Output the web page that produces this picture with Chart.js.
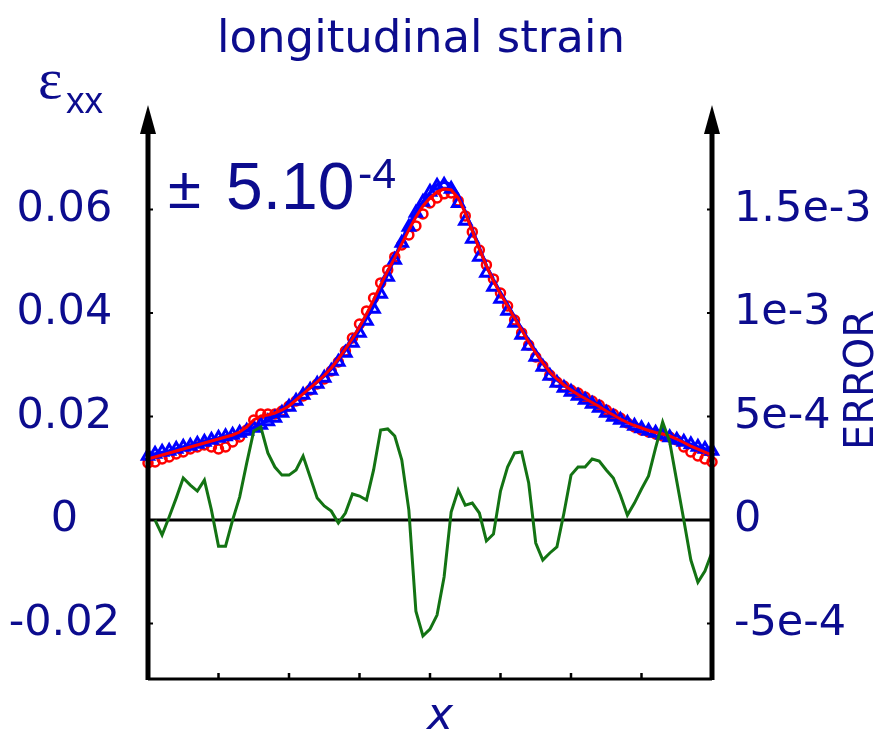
<!DOCTYPE html>
<html>
<head>
<meta charset="utf-8">
<script src="https://cdn.jsdelivr.net/npm/chart.js@4/dist/chart.umd.min.js"></script>
<style>
  html, body { margin: 0; padding: 0; background: #fff; }
  #c { display: block; }
</style>
</head>
<body>
<canvas id="c" width="884" height="736"></canvas>
<script>
// x grid: step between samples, axis runs 0..8 with a tick every unit
const dx = 0.1;
const xTicks = [1, 2, 3, 4, 5, 6, 7];
const errX0 = 0.1;

// strain, blue fitted line (one extra sample past the right axis)
const blueLine = [
  0.01237, 0.01275, 0.01304, 0.01333, 0.01372, 0.01411, 0.01440, 0.01478, 0.01517, 0.01556,
  0.01585, 0.01623, 0.01652, 0.01681, 0.01729, 0.01787, 0.01855, 0.01923, 0.02000, 0.02087,
  0.02222, 0.02338, 0.02454, 0.02560, 0.02667, 0.02783, 0.02918, 0.03092, 0.03285, 0.03469,
  0.03671, 0.03903, 0.04135, 0.04444, 0.04754, 0.05063, 0.05391, 0.05700, 0.05952, 0.06145,
  0.06319, 0.06473, 0.06531, 0.06473, 0.06280, 0.05952, 0.05604, 0.05256, 0.04908, 0.04638,
  0.04386, 0.04155, 0.03903, 0.03690, 0.03459, 0.03246, 0.03034, 0.02840, 0.02705, 0.02609,
  0.02512, 0.02435, 0.02357, 0.02280, 0.02203, 0.02106, 0.02019, 0.01952, 0.01894, 0.01836,
  0.01787, 0.01739, 0.01700, 0.01652, 0.01604, 0.01556, 0.01507, 0.01459, 0.01411, 0.01372,
  0.01333, 0.01275
];

// strain, blue triangles
const blueTri = [
  0.01237, 0.01275, 0.01314, 0.01333, 0.01372, 0.01411, 0.01430, 0.01469, 0.01507, 0.01546,
  0.01585, 0.01614, 0.01643, 0.01681, 0.01720, 0.01778, 0.01836, 0.01903, 0.01971, 0.02068,
  0.02184, 0.02300, 0.02415, 0.02512, 0.02628, 0.02744, 0.02879, 0.03053, 0.03227, 0.03420,
  0.03614, 0.03845, 0.04077, 0.04367, 0.04696, 0.05024, 0.05353, 0.05662, 0.05932, 0.06145,
  0.06338, 0.06454, 0.06473, 0.06396, 0.06120, 0.05778, 0.05430, 0.05082, 0.04773, 0.04502,
  0.04271, 0.04039, 0.03807, 0.03575, 0.03362, 0.03150, 0.02957, 0.02783, 0.02647, 0.02551,
  0.02473, 0.02396, 0.02319, 0.02242, 0.02164, 0.02068, 0.01990, 0.01932, 0.01874, 0.01816,
  0.01768, 0.01720, 0.01681, 0.01643, 0.01594, 0.01546, 0.01507, 0.01459, 0.01411, 0.01372,
  0.01333
];

// strain, red line
const redLine = [
  0.01179, 0.01217, 0.01256, 0.01295, 0.01333, 0.01372, 0.01411, 0.01449, 0.01488, 0.01527,
  0.01565, 0.01604, 0.01643, 0.01700, 0.01797, 0.01932, 0.02010, 0.02029, 0.02068, 0.02126,
  0.02203, 0.02319, 0.02435, 0.02551, 0.02667, 0.02792, 0.02937, 0.03111, 0.03304, 0.03507,
  0.03729, 0.03981, 0.04251, 0.04541, 0.04812, 0.05063, 0.05333, 0.05604, 0.05855, 0.06068,
  0.06222, 0.06338, 0.06396, 0.06377, 0.06222, 0.05932, 0.05585, 0.05237, 0.04908, 0.04618,
  0.04367, 0.04135, 0.03903, 0.03671, 0.03440, 0.03227, 0.03034, 0.02860, 0.02725, 0.02609,
  0.02512, 0.02425, 0.02348, 0.02271, 0.02193, 0.02106, 0.02029, 0.01952, 0.01884, 0.01826,
  0.01778, 0.01729, 0.01691, 0.01662, 0.01623, 0.01565, 0.01498, 0.01430, 0.01372, 0.01314,
  0.01256
];

// strain, red circles
const redCirc = [
  0.01101, 0.01121, 0.01179, 0.01217, 0.01275, 0.01314, 0.01372, 0.01411, 0.01449, 0.01411,
  0.01372, 0.01411, 0.01507, 0.01604, 0.01739, 0.01932, 0.02048, 0.02048, 0.02048, 0.02106,
  0.02203, 0.02300, 0.02396, 0.02512, 0.02628, 0.02725, 0.02879, 0.03053, 0.03266, 0.03517,
  0.03787, 0.04039, 0.04290, 0.04580, 0.04831, 0.05082, 0.05314, 0.05507, 0.05681, 0.05913,
  0.06126, 0.06222, 0.06300, 0.06319, 0.06164, 0.05874, 0.05565, 0.05217, 0.04928, 0.04657,
  0.04386, 0.04135, 0.03865, 0.03614, 0.03382, 0.03150, 0.02976, 0.02802, 0.02667, 0.02589,
  0.02512, 0.02454, 0.02377, 0.02300, 0.02222, 0.02126, 0.02048, 0.01971, 0.01874, 0.01797,
  0.01739, 0.01700, 0.01662, 0.01623, 0.01604, 0.01546, 0.01411, 0.01314, 0.01237, 0.01179,
  0.01121
];

// error (green), in units of 1e-4
const errorE4 = [
  0, -0.72, 0.15, 1.06, 2.03, 1.69, 1.40, 1.93, 0.48, -1.26,
  -1.26, 0, 1.11, 2.75, 4.30, 4.49, 3.24, 2.56, 2.17, 2.17,
  2.42, 3.09, 2.08, 1.06, 0.68, 0.43, -0.14, 0.34, 1.26, 1.16,
  0.97, 2.42, 4.35, 4.40, 4.06, 2.90, 0.48, -4.40, -5.60, -5.27,
  -4.59, -2.75, 0.39, 1.45, 0.72, 0.82, 0.34, -1.01, -0.68, 1.40,
  2.56, 3.24, 3.29, 1.79, -1.11, -1.93, -1.59, -1.30, 0.34, 2.17,
  2.56, 2.56, 2.95, 2.85, 2.42, 2.03, 1.21, 0.24, 0.82, 1.50,
  2.13, 3.48, 4.73, 3.77, 1.88, 0, -1.93, -3.00, -2.46, -1.55,
  0
];

const yMin = -0.0307, yMax = 0.0792;
const errScale = 0.025; // 0.02 strain <-> 5e-4 error

const navy = '#0c0c8e';
const green = '#137313';

function pts(vals, x0, mul) {
  return vals.map((v, i) => ({ x: x0 + i * dx, y: v * (mul || 1) }));
}

function fmtErr(v) {
  if (Math.abs(v) < 1e-12) return '0';
  const e = Math.floor(Math.log10(Math.abs(v)) + 1e-9);
  const m = Math.round(v / Math.pow(10, e) * 100) / 100;
  return m + 'e' + e;
}

const deco = {
  id: 'deco',
  beforeDatasetsDraw(chart) {
    const { ctx, chartArea: a, scales } = chart;
    const y0 = scales.y.getPixelForValue(0);
    ctx.save();
    ctx.strokeStyle = '#000';
    ctx.lineWidth = 3;
    ctx.beginPath();
    ctx.moveTo(a.left, y0);
    ctx.lineTo(a.right + 2, y0);
    ctx.stroke();
    ctx.restore();
  },
  afterDatasetsDraw(chart) {
    const { ctx, chartArea: a, scales } = chart;
    ctx.save();
    ctx.strokeStyle = '#000';
    ctx.fillStyle = '#000';
    // vertical axes with arrows
    [a.left, a.right].forEach(xp => {
      ctx.lineWidth = 5;
      ctx.beginPath();
      ctx.moveTo(xp, a.bottom + 1);
      ctx.lineTo(xp, a.top + 22);
      ctx.stroke();
      ctx.beginPath();
      ctx.moveTo(xp, a.top - 5);
      ctx.lineTo(xp - 8, a.top + 24);
      ctx.lineTo(xp + 8, a.top + 24);
      ctx.closePath();
      ctx.fill();
    });
    // bottom axis
    ctx.lineWidth = 3;
    ctx.beginPath();
    ctx.moveTo(a.left, a.bottom);
    ctx.lineTo(a.right, a.bottom);
    ctx.stroke();
    ctx.lineWidth = 2.5;
    xTicks.forEach(t => {
      const xp = scales.x.getPixelForValue(t);
      ctx.beginPath();
      ctx.moveTo(xp, a.bottom);
      ctx.lineTo(xp, a.bottom - 6);
      ctx.stroke();
    });
    // small nubs on the vertical axes
    ctx.lineWidth = 2;
    scales.y.ticks.forEach(t => {
      const yp = scales.y.getPixelForValue(t.value);
      ctx.beginPath();
      ctx.moveTo(a.left, yp);
      ctx.lineTo(a.left + 5, yp);
      ctx.moveTo(a.right - 5, yp);
      ctx.lineTo(a.right, yp);
      ctx.stroke();
    });
    ctx.restore();
  },
  afterDraw(chart) {
    const { ctx } = chart;
    ctx.save();
    ctx.fillStyle = navy;
    ctx.textBaseline = 'alphabetic';

    ctx.textAlign = 'center';
    ctx.font = '45px "DejaVu Sans"';
    ctx.fillText('longitudinal strain', 421, 52);

    ctx.textAlign = 'left';
    ctx.font = '58px "Liberation Serif"';
    ctx.fillText('\u03b5', 38, 98);
    ctx.font = '37px "Liberation Sans"';
    ctx.fillText('xx', 66, 113);

    ctx.font = '60px "Liberation Sans"';
    ctx.fillText('\u00b1', 168, 208);
    ctx.font = '66px "Liberation Sans"';
    ctx.fillText('5.10', 226, 209);
    ctx.font = '43px "Liberation Sans"';
    ctx.fillText('-4', 358, 188);

    ctx.textAlign = 'center';
    ctx.font = 'italic 44px "DejaVu Sans"';
    ctx.fillText('x', 440, 729);

    ctx.translate(863, 380);
    ctx.rotate(-Math.PI / 2);
    ctx.font = '40px "DejaVu Sans"';
    ctx.textBaseline = 'middle';
    ctx.fillText('ERROR', 0, 0);
    ctx.restore();
  }
};

new Chart(document.getElementById('c'), {
  type: 'line',
  data: {
    datasets: [
      {
        data: pts(errorE4, errX0, 1e-4), yAxisID: 'y1',
        borderColor: green, borderWidth: 3, pointRadius: 0, clip: false
      },
      {
        data: pts(redLine, 0), yAxisID: 'y',
        borderColor: '#ff0000', borderWidth: 3, pointRadius: 0, clip: false
      },
      {
        data: pts(blueLine, 0), yAxisID: 'y',
        borderColor: '#0000ff', borderWidth: 3.5, pointRadius: 0, clip: false
      },
      {
        data: pts(blueTri, 0), yAxisID: 'y', showLine: false,
        pointStyle: 'triangle', pointRadius: 6.5, pointBorderWidth: 3,
        pointBorderColor: '#0000ff', pointBackgroundColor: 'rgba(0,0,0,0)', clip: false
      },
      {
        data: pts(redCirc, 0), yAxisID: 'y', showLine: false,
        pointStyle: 'circle', pointRadius: 4.5, pointBorderWidth: 2.5,
        pointBorderColor: '#ff0000', pointBackgroundColor: 'rgba(0,0,0,0)', clip: false
      }
    ]
  },
  options: {
    responsive: false,
    animation: false,
    devicePixelRatio: 1,
    layout: { padding: { top: 110, left: 0, right: 0, bottom: 0 } },
    plugins: { legend: { display: false }, tooltip: { enabled: false } },
    elements: { line: { tension: 0 } },
    scales: {
      x: {
        type: 'linear', min: 0, max: 8,
        grid: { display: false }, border: { display: false },
        ticks: { display: false },
        afterFit: s => { s.height = 57; }
      },
      y: {
        position: 'left', min: yMin, max: yMax,
        grid: { display: false }, border: { display: false },
        ticks: {
          stepSize: 0.02, includeBounds: false, crossAlign: 'center', padding: 20,
          color: navy, font: { family: 'DejaVu Sans', size: 43 },
          callback: v => Math.abs(v) < 1e-9 ? '0' : v.toFixed(2)
        },
        afterFit: s => { s.width = 148; }
      },
      y1: {
        position: 'right', min: yMin * errScale, max: yMax * errScale,
        grid: { display: false }, border: { display: false },
        ticks: {
          stepSize: 5e-4, includeBounds: false, padding: 14,
          color: navy, font: { family: 'DejaVu Sans', size: 43 },
          callback: v => fmtErr(v)
        },
        afterFit: s => { s.width = 172; }
      }
    }
  },
  plugins: [deco]
});
</script>
</body>
</html>
